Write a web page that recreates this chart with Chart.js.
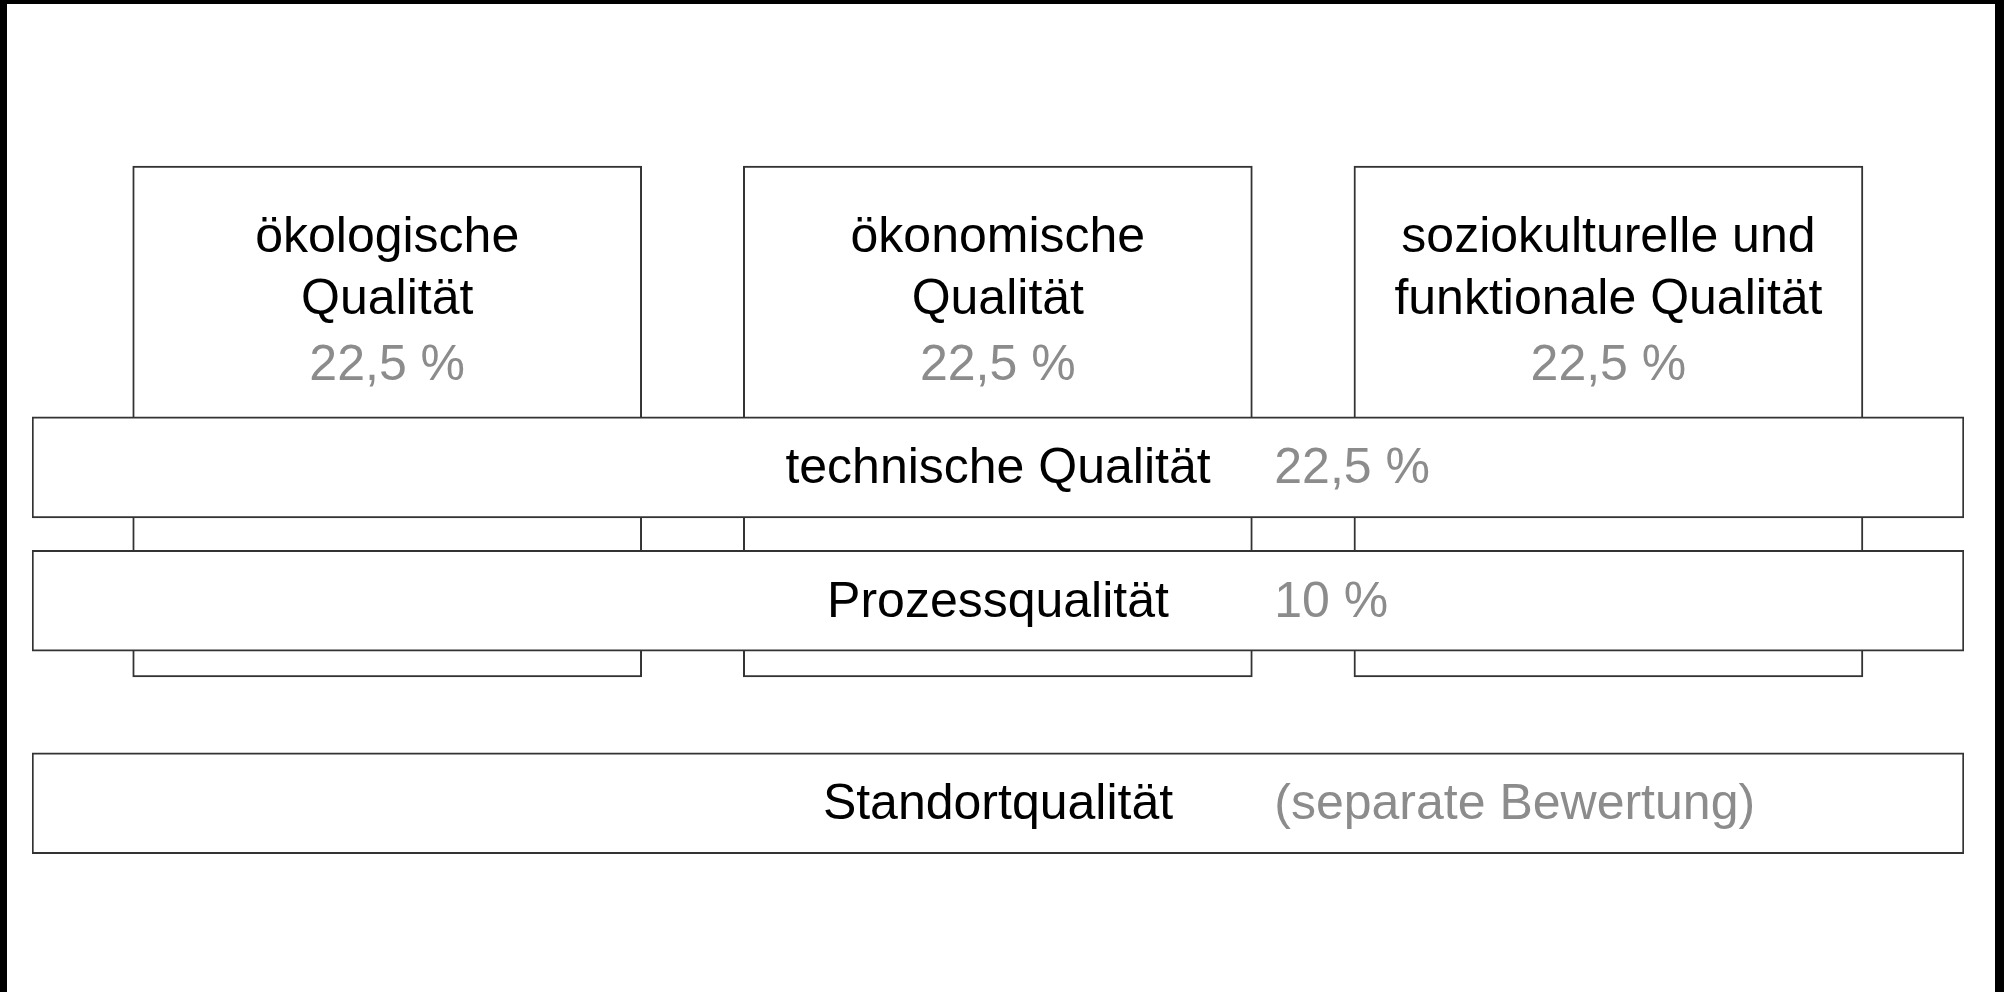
<!DOCTYPE html>
<html lang="de">
<head>
<meta charset="utf-8">
<title>DGNB Bewertung</title>
<script src="https://cdn.jsdelivr.net/npm/chart.js@4.4.1/dist/chart.umd.min.js"></script>
<style>
  html, body { margin: 0; padding: 0; background: #000; }
  #rahmen { position: absolute; left: 7px; top: 4px; width: 1988px; height: 988px; background: #fff; }
</style>
</head>
<body>
<div id="rahmen"><canvas id="grafik" width="1988" height="988"></canvas></div>
<script>
// Säulen (Hauptkriterien)
var saeulen = [['ökologische', 'Qualität'], ['ökonomische', 'Qualität'], ['soziokulturelle und', 'funktionale Qualität']];
var saeulenGewicht = ['22,5 %', '22,5 %', '22,5 %'];
// Querschnittsebenen
var ebenen = ['technische Qualität', 'Prozessqualität', 'Standortqualität'];
var ebenenGewicht = ['22,5 %', '10 %', '(separate Bewertung)'];

// Lage im Raster (Achseneinheiten, Höhe von unten gemessen)
var saeulenPos = [0, 1, 2];
var saeulenHoehe = [[31.9, 83.6], [31.9, 83.6], [31.9, 83.6]];
var ebenenPos = [53.1, 39.6, 19.1];
var ebenenBreite = [0, 100];
var spalteWert = 64.3;

// Beschriftung der Kästen
var beschriftung = {
  id: 'beschriftung',
  afterDatasetsDraw: function(chart) {
    var c = chart.ctx;
    c.save();
    c.font = '50px "Liberation Sans", Arial, sans-serif';
    c.textBaseline = 'alphabetic';
    c.textAlign = 'center';
    chart.getDatasetMeta(0).data.forEach(function(bar, i) {
      var oben = Math.min(bar.y, bar.base);
      c.fillStyle = '#000';
      c.fillText(saeulen[i][0], bar.x, oben + 86);
      c.fillText(saeulen[i][1], bar.x, oben + 148);
      c.fillStyle = '#8c8c8c';
      c.fillText(saeulenGewicht[i], bar.x, oben + 214);
    });
    var x2 = chart.scales.x2;
    chart.getDatasetMeta(1).data.forEach(function(bar, i) {
      var mitte = (bar.x + bar.base) / 2;
      c.textAlign = 'center';
      c.fillStyle = '#000';
      c.fillText(ebenen[i], mitte, bar.y + 16);
      c.textAlign = 'left';
      c.fillStyle = '#8c8c8c';
      c.fillText(ebenenGewicht[i], x2.getPixelForValue(spalteWert), bar.y + 16);
    });
    c.restore();
  }
};

// versteckte Achsen ohne Versatz
var achse = { type: 'linear', display: false, offset: false, grace: 0, bounds: 'data', beginAtZero: false };

var ctx = document.getElementById('grafik');
var chart = new Chart(ctx, {
  type: 'bar',
  data: {
    datasets: [{
      label: 'Säulen',
      data: saeulenPos.map(function(x, i) { return { x: x, y: saeulenHoehe[i] }; }),
      xAxisID: 'x',
      yAxisID: 'y',
      backgroundColor: '#fff',
      borderColor: '#333',
      borderWidth: 2,
      borderSkipped: false,
      barThickness: 509,
      order: 2
    }, {
      label: 'Ebenen',
      indexAxis: 'y',
      data: ebenenPos.map(function(y) { return { x: ebenenBreite, y: y }; }),
      xAxisID: 'x2',
      yAxisID: 'y2',
      backgroundColor: '#fff',
      borderColor: '#333',
      borderWidth: 2,
      borderSkipped: false,
      grouped: false,
      categoryPercentage: 1,
      barPercentage: 1,
      maxBarThickness: 101,
      order: 1
    }]
  },
  options: {
    responsive: false,
    animation: false,
    events: [],
    layout: { padding: { left: 25, right: 31, top: 0, bottom: 0 } },
    plugins: { legend: { display: false }, tooltip: { enabled: false } },
    scales: {
      // gruppierte Säulen sitzen eine halbe Breite links vom Wert, daher Achse verschoben
      x: Object.assign({}, achse, { position: 'bottom', min: -0.9985, max: 2.1655, ticks: { stepSize: 1, includeBounds: false } }),
      y: Object.assign({}, achse, { position: 'left', min: 0, max: 100, ticks: { stepSize: 50 } }),
      x2: Object.assign({}, achse, { axis: 'x', position: 'bottom', min: 0, max: 100, ticks: { stepSize: 50 } }),
      y2: Object.assign({}, achse, { axis: 'y', position: 'left', min: 0, max: 100, ticks: { stepSize: 50 } })
    }
  },
  plugins: [beschriftung]
});
</script>
</body>
</html>
